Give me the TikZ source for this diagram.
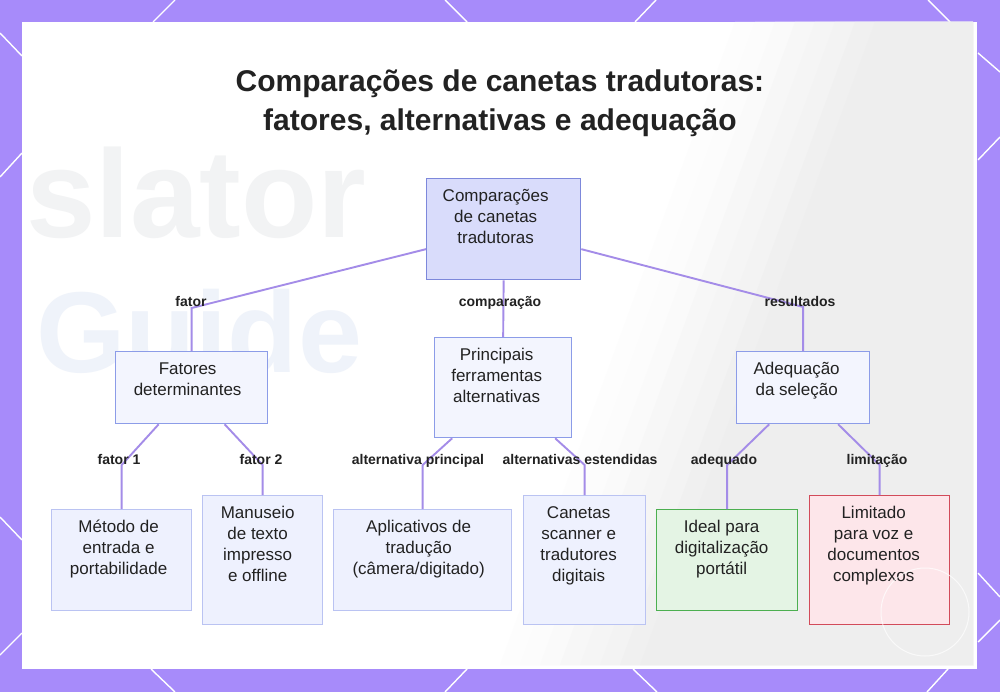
\documentclass[tikz,border=0pt]{standalone}
\usepackage{fontspec}
\setmainfont{Liberation Sans}
\definecolor{bgp}{HTML}{A78BFA}
\definecolor{gbg}{HTML}{EEEEEE}
\definecolor{wmgray}{HTML}{F2F3F4}
\definecolor{wmblue}{HTML}{EFF3FA}
\definecolor{txt}{HTML}{222222}
\definecolor{conn}{HTML}{A48CE8}
\definecolor{rootfill}{HTML}{D9DCFB}
\definecolor{rootdraw}{HTML}{7D88DB}
\definecolor{midfill}{HTML}{F3F5FE}
\definecolor{middraw}{HTML}{8C9CE8}
\definecolor{lowfill}{HTML}{EEF1FE}
\definecolor{lowdraw}{HTML}{BAC3F2}
\definecolor{gfill}{HTML}{E4F4E4}
\definecolor{gdraw}{HTML}{4CAF50}
\definecolor{rfill}{HTML}{FDE6EA}
\definecolor{rdraw}{HTML}{D24B5A}
\newcommand\btxt[4]{\begin{minipage}[t][#2pt][t]{#1pt}\centering\rightskip=#3pt plus 1fil\relax\rule{0pt}{22.5pt}#4\end{minipage}}
\begin{document}
\begin{tikzpicture}[x=1pt,y=-1pt,
  boxbase/.style={draw, line width=1.3pt, inner sep=0pt, anchor=north west, font=\fontsize{17}{21}\selectfont, text=txt},
  rootbox/.style={boxbase, fill=rootfill, draw=rootdraw},
  midbox/.style={boxbase, fill=midfill, draw=middraw},
  lowbox/.style={boxbase, fill=lowfill, draw=lowdraw},
  goodbox/.style={boxbase, fill=gfill, draw=gdraw},
  badbox/.style={boxbase, fill=rfill, draw=rdraw},
  link/.style={draw=conn, line width=1.9pt},
  lbl/.style={anchor=base, inner sep=0pt, font=\fontsize{14}{16}\selectfont\bfseries, text=txt},
  deco/.style={draw=white, line width=1.4pt}
]
\useasboundingbox (0,0) rectangle (1000,692);
\fill[bgp] (0,0) rectangle (1000,692);
% border pattern
\draw[deco] (153,22) -- (175,0);
\draw[deco] (445,0) -- (467,22);
\draw[deco] (635,22) -- (656,0);
\draw[deco] (928,0) -- (950,22);
\draw[deco] (0,33) -- (22,56);
\draw[deco] (0,177) -- (22,153);
\draw[deco] (0,517) -- (22,540);
\draw[deco] (0,655) -- (22,633);
\draw[deco] (978,53) -- (1000,72);
\draw[deco] (978,160) -- (1000,137);
\draw[deco] (978,573) -- (1000,597);
\draw[deco] (978,642) -- (1000,620);
\draw[deco] (151,669) -- (175,692);
\draw[deco] (445,692) -- (467,669);
\draw[deco] (633,669) -- (657,692);
\draw[deco] (927,692) -- (948,669);
% panel
\fill[white] (22,22) rectangle (977,669);
\begin{scope}
  \clip (22,22) rectangle (973,665);
  \foreach \d/\c in {-80/10,-60/20,-40/32,-20/45,0/58,20/72,40/86,60/100}
    \fill[gbg!\c!white] (815+\d,22) -- (973,22) -- (973,665) -- (580+\d,665) -- cycle;
  \node[anchor=base west, inner sep=0pt, font=\fontsize{125}{125}\selectfont\bfseries, text=wmgray] (wma) at (26,238) {slator};
  \node[anchor=base west, inner sep=0pt, font=\fontsize{115}{115}\selectfont\bfseries, text=wmblue] (wmb) at (36,372) {Guide};
\end{scope}
% title
\node[anchor=base, inner sep=0pt, font=\fontsize{30}{38.5}\selectfont\bfseries, text=txt] (title) at (500,92)
  {\begin{minipage}[t]{700pt}\centering Comparações de canetas tradutoras:\\fatores, alternativas e adequação\end{minipage}};
% boxes
\node[rootbox] (root) at (426,178) {\btxt{154}{101}{16}{Comparações\\de canetas\\tradutoras}};
\node[midbox] (fat) at (115,351) {\btxt{152}{72}{8}{Fatores\\determinantes}};
\node[midbox] (prin) at (434,337) {\btxt{137}{100}{13}{Principais\\ferramentas\\alternativas}};
\node[midbox] (adq) at (736,351) {\btxt{133}{72}{13}{Adequação\\da seleção}};
\node[lowbox] (met) at (51,509) {\btxt{140}{101}{6}{Método de\\entrada e\\portabilidade}};
\node[lowbox] (man) at (202,495) {\btxt{120}{129}{10}{Manuseio\\de texto\\impresso\\e offline}};
\node[lowbox] (app) at (333,509) {\btxt{178}{101}{8}{Aplicativos de\\tradução\\(câmera/digitado)}};
\node[lowbox] (can) at (523,495) {\btxt{122}{129}{12}{Canetas\\scanner e\\tradutores\\digitais}};
\node[goodbox] (ide) at (656,509) {\btxt{141}{101}{11}{Ideal para\\digitalização\\portátil}};
\node[badbox] (lim) at (809,495) {\btxt{140}{129}{12}{Limitado\\para voz e\\documentos\\complexos}};
% connectors
\draw[link] ([yshift=-20pt]root.west) -- ([yshift=43pt]fat.north) -- (fat.north);
\draw[link] (root.south) -- (prin.north);
\draw[link] ([yshift=-20pt]root.east) -- ([yshift=44pt]adq.north) -- (adq.north);
\draw[link] ([xshift=-33pt]fat.south) -- ([yshift=44pt]met.north) -- (met.north);
\draw[link] ([xshift=33pt]fat.south) -- ([yshift=30pt]man.north) -- (man.north);
\draw[link] ([xshift=-51pt]prin.south) -- ([yshift=44pt]app.north) -- (app.north);
\draw[link] ([xshift=52pt]prin.south) -- ([yshift=30pt]can.north) -- (can.north);
\draw[link] ([xshift=-34pt]adq.south) -- ([yshift=44pt]ide.north) -- (ide.north);
\draw[link] ([xshift=35pt]adq.south) -- ([yshift=30pt]lim.north) -- (lim.north);
% labels
\node[lbl] (la) at (191,306) {fator};
\node[lbl] (lb) at (500,306) {comparação};
\node[lbl] (lc) at (800,306) {resultados};
\node[lbl] (ld) at (119,464) {fator 1};
\node[lbl] (le) at (261,464) {fator 2};
\node[lbl] (lf) at (418,464) {alternativa principal};
\node[lbl] (lg) at (580,464) {alternativas estendidas};
\node[lbl] (lh) at (724,464) {adequado};
\node[lbl] (li) at (877,464) {limitação};
% faint watermark circle
\begin{scope}
  \clip (22,22) rectangle (973,665);
  \draw[white, line width=1pt, opacity=0.7] (925,612) circle (44);
\end{scope}
\end{tikzpicture}
\end{document}
